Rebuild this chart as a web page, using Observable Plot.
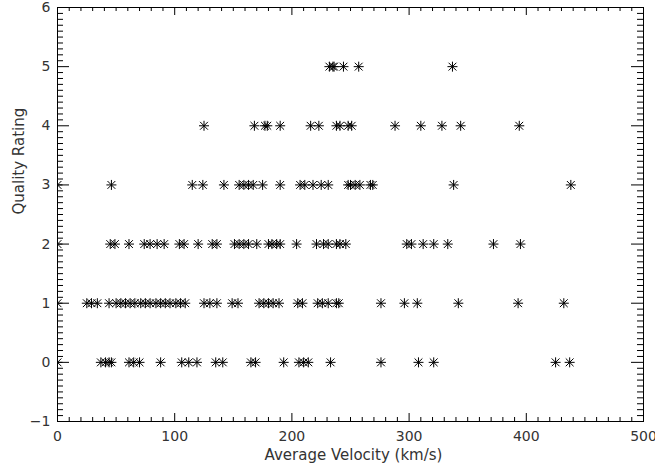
<!DOCTYPE html>
<html>
<head>
<meta charset="utf-8">
<script src="https://cdn.jsdelivr.net/npm/d3@7"></script>
<script src="https://cdn.jsdelivr.net/npm/@observablehq/plot@0.6"></script>
<style>
  html, body { margin: 0; padding: 0; background: #fff; }
</style>
</head>
<body>
<div id="chart"></div>
<script>
// Velocities (km/s) per quality rating
const rating0 = [0, 37, 41, 44, 46, 61, 65, 70, 88, 106, 112, 119, 135, 141, 165, 169, 193, 206, 210, 214, 233, 276, 308, 321, 425, 437];
const rating1 = [0, 25, 29, 34, 44, 50, 54, 58, 62, 66, 71, 75, 79, 84, 88, 92, 96, 101, 105, 109, 125, 130, 136, 149, 154, 172, 176, 180, 184, 189, 205, 209, 222, 226, 231, 238, 240, 276, 296, 307, 342, 393, 432];
const rating2 = [0, 45, 49, 61, 74, 79, 85, 91, 104, 108, 120, 132, 136, 151, 155, 159, 163, 170, 180, 183, 187, 190, 204, 221, 227, 231, 238, 241, 246, 298, 302, 312, 321, 333, 372, 395];
const rating3 = [0, 46, 115, 124, 142, 155, 159, 163, 167, 175, 190, 207, 211, 218, 225, 231, 248, 250, 254, 258, 267, 269, 338, 438];
const rating4 = [125, 168, 177, 179, 190, 216, 223, 238, 241, 248, 251, 288, 310, 328, 344, 394];
const rating5 = [232, 235, 236, 244, 257, 337];
const ratings = [0, 1, 2, 3, 4, 5];

// Axis ticks
const xMajor = [0, 100, 200, 300, 400, 500];
const xMinor = d3.range(0, 501, 10).filter(v => v % 100 !== 0);
const yMajor = [-1, 0, 1, 2, 3, 4, 5, 6];
const yMinor = d3.range(-10, 61).filter(v => v % 10 !== 0).map(v => v / 10);

const series = [rating0, rating1, rating2, rating3, rating4, rating5];
const points = series.flatMap((vals, i) => vals.map(v => ({velocity: v, rating: ratings[i]})));

const W = 655, H = 470, mL = 57, mR = 12, mT = 7, mB = 49;
const fW = W - mL - mR, fH = H - mT - mB;

const asterisk = {
  draw(ctx, size) {
    const r = Math.sqrt(size / Math.PI);
    const d = r * 0.78;
    ctx.moveTo(-r, 0); ctx.lineTo(r, 0);
    ctx.moveTo(0, -r); ctx.lineTo(0, r);
    ctx.moveTo(-d, -d); ctx.lineTo(d, d);
    ctx.moveTo(-d, d); ctx.lineTo(d, -d);
  }
};

const fmtY = d => d < 0 ? "\u2212" + Math.abs(d) : String(d);
const txt = "#333";

const chart = Plot.plot({
  width: W, height: H,
  marginLeft: mL, marginRight: mR, marginTop: mT, marginBottom: mB,
  x: {domain: [0, 500], axis: null},
  y: {domain: [-1, 6], axis: null},
  style: {fontFamily: "DejaVu Sans", fontSize: "14px", color: txt, background: "white"},
  marks: [
    Plot.dot(points, {x: "velocity", y: "rating", symbol: asterisk, r: 5, fill: "none", stroke: "#000", strokeWidth: 1, clip: true}),
    Plot.frame({stroke: "#000", strokeWidth: 1}),
    // bottom / top ticks
    Plot.tickX(xMajor, {x: d => d, insetTop: fH - 8, stroke: "#000"}),
    Plot.tickX(xMajor, {x: d => d, insetBottom: fH - 8, stroke: "#000"}),
    Plot.tickX(xMinor, {x: d => d, insetTop: fH - 4, stroke: "#000"}),
    Plot.tickX(xMinor, {x: d => d, insetBottom: fH - 4, stroke: "#000"}),
    // left / right ticks
    Plot.tickY(yMajor, {y: d => d, insetRight: fW - 12, stroke: "#000"}),
    Plot.tickY(yMajor, {y: d => d, insetLeft: fW - 12, stroke: "#000"}),
    Plot.tickY(yMinor, {y: d => d, insetRight: fW - 6, stroke: "#000"}),
    Plot.tickY(yMinor, {y: d => d, insetLeft: fW - 6, stroke: "#000"}),
    // tick labels
    Plot.axisX(xMajor, {anchor: "bottom", tickSize: 0, tickPadding: 10, label: null, fill: txt, fontSize: 14}),
    Plot.axisY(yMajor, {anchor: "left", tickSize: 0, tickPadding: 7, label: null, tickFormat: fmtY, fill: txt, fontSize: 14}),
    // axis titles
    Plot.text(["Average Velocity (km/s)"], {frameAnchor: "bottom", dy: 38, dx: 3, text: d => d, fill: txt, fontSize: 15}),
    Plot.text(["Quality Rating"], {frameAnchor: "left", dx: -38, rotate: -90, text: d => d, fill: txt, fontSize: 15, letterSpacing: 0.8})
  ]
});
document.getElementById("chart").appendChild(chart);
</script>
</body>
</html>
